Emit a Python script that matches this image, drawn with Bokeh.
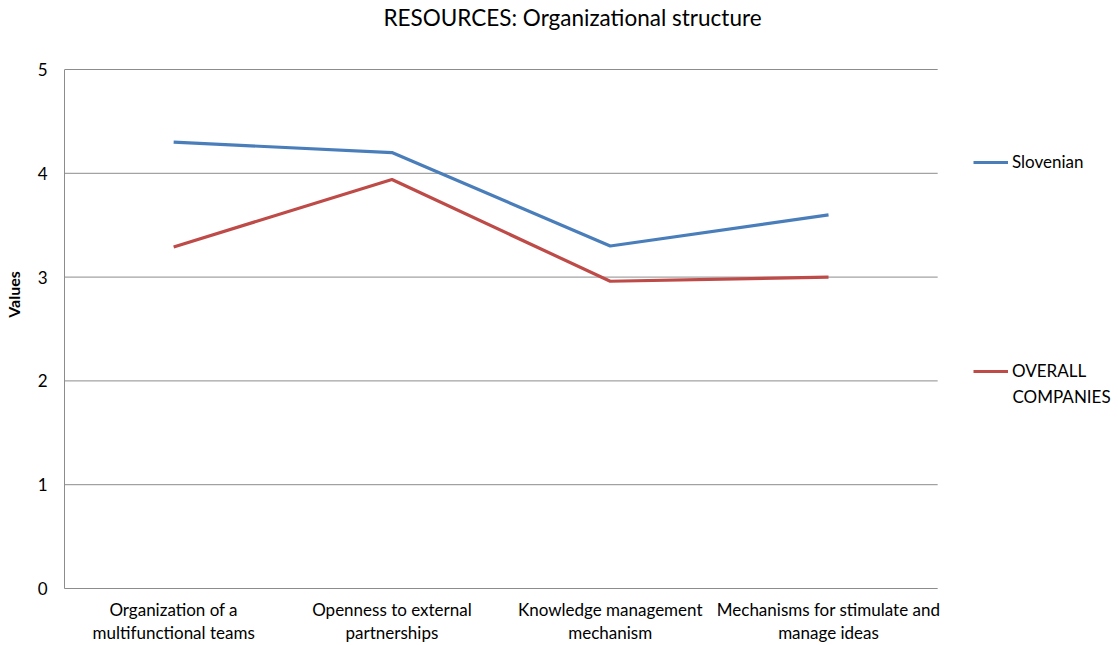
from bokeh.plotting import figure
from bokeh.models import Range1d, FixedTicker, Legend, LegendItem, Label
from bokeh.embed import file_html
from bokeh.resources import INLINE

# Data
categories = [
    "Organization of a\nmultifunctional teams",
    "Openness to external\npartnerships",
    "Knowledge management\nmechanism",
    "Mechanisms for stimulate and\nmanage ideas",
]
slovenian = [4.30, 4.20, 3.30, 3.60]
overall = [3.29, 3.94, 2.96, 3.00]
y_ticks = [0, 1, 2, 3, 4, 5]

FONT = "Lato"
BLUE = "#4A7EBB"
RED = "#BE4B48"
GRID = "#8C8C8C"
INK = "#000000"

W, H = 1118, 645
LEFT, BOTTOM = 63, 57            # space for the axes
PLOT_W, PLOT_H = 874, 519        # value area (0..5, four categories)
n = len(categories)
x_unit = PLOT_W / n
y_unit = PLOT_H / y_ticks[-1]
xs = list(range(n))

# The frame spans the whole canvas right/top of the axes so that the
# legend and the title can be placed as in-frame annotations.
x0 = -0.5
x1 = x0 + (W - LEFT) / x_unit
y1 = (H - BOTTOM) / y_unit

p = figure(
    width=W, height=H,
    x_range=Range1d(x0, x1), y_range=Range1d(0, y1),
    output_backend="svg", toolbar_location=None,
    min_border_left=LEFT, min_border_right=0,
    min_border_top=0, min_border_bottom=BOTTOM,
)
p.outline_line_color = None
p.background_fill_color = "white"
p.border_fill_color = "white"
p.xgrid.grid_line_color = None
p.ygrid.grid_line_color = None

# Horizontal gridlines over the value area only
p.segment(x0=[x0] * len(y_ticks), y0=y_ticks,
          x1=[x0 + n] * len(y_ticks), y1=y_ticks,
          line_color=GRID, line_width=1)

# Axes
p.xaxis.ticker = FixedTicker(ticks=xs)
p.xaxis.major_label_overrides = {i: c for i, c in enumerate(categories)}
p.xaxis.bounds = (x0, x0 + n)
p.yaxis.ticker = FixedTicker(ticks=y_ticks)
p.yaxis.bounds = (y_ticks[0], y_ticks[-1])
for ax in (p.xaxis[0], p.yaxis[0]):
    ax.axis_line_color = GRID
    ax.major_tick_line_color = None
    ax.minor_tick_line_color = None
    ax.major_tick_out = 0
    ax.major_tick_in = 0
    ax.minor_tick_out = 0
    ax.minor_tick_in = 0
    ax.major_label_text_font = FONT
    ax.major_label_text_color = INK
p.yaxis.major_label_text_font_size = "17px"
p.yaxis.major_label_standoff = 17
p.xaxis.major_label_text_font_size = "17px"
p.xaxis.major_label_standoff = 10
p.xaxis.major_label_text_line_height = 1.1
p.yaxis.axis_label = "Values"
p.yaxis.axis_label_text_font = FONT
p.yaxis.axis_label_text_font_style = "bold"
p.yaxis.axis_label_text_font_size = "16px"
p.yaxis.axis_label_text_color = INK
p.yaxis.axis_label_standoff = 12

# Series
r1 = p.line(xs, slovenian, line_color=BLUE, line_width=3.2)
r2 = p.line(xs, overall, line_color=RED, line_width=3.2)

# Legend entries to the right of the value area
def make_legend(label, renderer, loc):
    return Legend(
        items=[LegendItem(label=label, renderers=[renderer])],
        location=loc, orientation="vertical",
        padding=0, margin=0, spacing=0,
        glyph_width=35, glyph_height=20, label_height=20,
        label_standoff=4,
        label_text_font=FONT, label_text_font_size="17px",
        label_text_color=INK,
        border_line_alpha=0, background_fill_alpha=0,
    )

p.add_layout(make_legend("Slovenian", r1, (909, 416)))
p.add_layout(make_legend("OVERALL", r2, (909, 207)))
p.add_layout(Label(
    x=948, y=192, x_units="screen", y_units="screen",
    text="COMPANIES", text_font=FONT, text_font_size="17px",
    text_color=INK, text_baseline="middle", text_align="left",
))

# Title
p.add_layout(Label(
    x=508, y=571, x_units="screen", y_units="screen",
    text="RESOURCES: Organizational structure",
    text_font=FONT, text_font_size="22.5px", text_color=INK,
    text_align="center", text_baseline="middle",
))

open("out.html", "w").write(file_html(p, INLINE))
